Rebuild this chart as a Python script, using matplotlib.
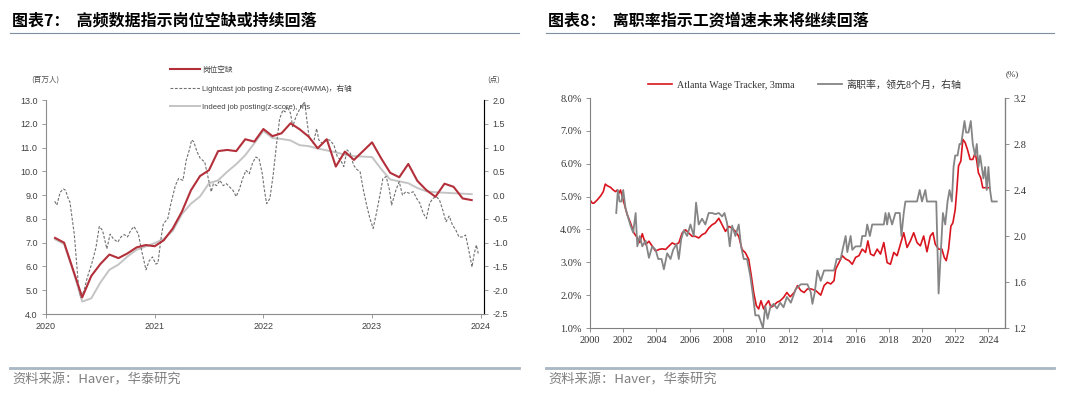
import matplotlib
matplotlib.use('Agg')
import matplotlib.pyplot as plt
from matplotlib.lines import Line2D
from matplotlib.ticker import FormatStrFormatter
import numpy as np
import pandas as pd

plt.rcParams['font.family'] = ['Liberation Sans', 'Noto Sans CJK SC', 'DejaVu Sans']
plt.rcParams['axes.unicode_minus'] = False

CJK = ['Noto Sans CJK SC', 'DejaVu Sans']
SANS = ['Liberation Sans', 'Noto Sans CJK SC']
SERIF = ['Liberation Serif', 'Noto Sans CJK SC']

# ---- chart 7 data ----
jolts_dates = pd.period_range('2020-01', '2023-11', freq='M')
jolts = [7.2, 7.0, 5.85, 4.7, 5.6, 6.1, 6.5, 6.35, 6.55, 6.8, 6.9, 6.85,
         7.1, 7.6, 8.3, 9.2, 9.8, 10.05, 10.85, 10.9, 10.85, 11.35, 11.25, 11.78,
         11.48, 11.6, 12.02, 11.77, 11.46, 10.97, 11.35, 10.2, 10.83, 10.48, 10.85, 11.22,
         10.55, 9.94, 9.75, 10.31, 9.6, 9.21, 8.93, 9.48, 9.35, 8.86, 8.79]
indeed = [-0.93, -1.03, -1.6, -2.24, -2.17, -1.84, -1.57, -1.46, -1.29, -1.15, -1.08, -1.01,
          -0.92, -0.75, -0.4, -0.18, -0.03, 0.25, 0.31, 0.49, 0.65, 0.84, 1.09, 1.35,
          1.2, 1.18, 1.15, 1.05, 1.03, 0.98, 0.94, 0.9, 0.85, 0.82, 0.81, 0.8,
          0.55, 0.33, 0.29, 0.25, 0.15, 0.08, 0.06, 0.05, 0.04, 0.03, 0.02]
lightcast_t = [2020.08, 2020.10, 2020.13, 2020.16, 2020.18, 2020.21, 2020.22, 2020.26, 2020.30, 2020.32,
               2020.35, 2020.38, 2020.42, 2020.46, 2020.49, 2020.52, 2020.56, 2020.59, 2020.62, 2020.66,
               2020.69, 2020.72, 2020.75, 2020.78, 2020.81, 2020.85, 2020.88, 2020.92, 2020.95, 2020.98,
               2021.01, 2021.03, 2021.06, 2021.08, 2021.12, 2021.15, 2021.19, 2021.22, 2021.26, 2021.29,
               2021.32, 2021.34, 2021.36, 2021.39, 2021.42, 2021.46, 2021.49, 2021.52, 2021.54, 2021.57,
               2021.60, 2021.63, 2021.66, 2021.69, 2021.72, 2021.75, 2021.78, 2021.81, 2021.84, 2021.87,
               2021.90, 2021.93, 2021.96, 2021.99, 2022.01, 2022.03, 2022.06, 2022.09, 2022.12, 2022.15,
               2022.18, 2022.20, 2022.22, 2022.25, 2022.27, 2022.30, 2022.33, 2022.36, 2022.38, 2022.40,
               2022.42, 2022.46, 2022.49, 2022.51, 2022.54, 2022.57, 2022.61, 2022.65, 2022.68, 2022.71,
               2022.74, 2022.77, 2022.80, 2022.83, 2022.86, 2022.89, 2022.92, 2022.95, 2022.98,
               2023.01, 2023.04, 2023.07, 2023.10, 2023.13, 2023.16, 2023.18, 2023.22, 2023.25, 2023.28,
               2023.31, 2023.34, 2023.38, 2023.41, 2023.44, 2023.47, 2023.50, 2023.53, 2023.56, 2023.59,
               2023.62, 2023.65, 2023.68, 2023.71, 2023.74, 2023.77, 2023.80, 2023.83, 2023.86, 2023.89,
               2023.92, 2023.94, 2023.96, 2023.98]
lightcast_z = [-0.13, -0.21, 0.06, 0.13, 0.10, -0.11, -0.14, -0.82, -1.94, -2.15,
               -2.01, -1.73, -1.45, -1.10, -0.66, -0.74, -1.13, -0.82, -0.92, -0.99,
               -0.88, -0.83, -0.88, -0.74, -0.66, -0.82, -1.17, -1.57, -1.38, -1.30,
               -1.45, -1.43, -0.88, -0.60, -0.50, -0.17, 0.20, 0.35, 0.31, 0.73,
               0.96, 1.16, 1.12, 0.91, 0.77, 0.70, 0.38, 0.07, 0.24, 0.20,
               0.31, 0.20, 0.24, 0.17, 0.10, -0.03, 0.13, 0.35, 0.52, 0.45,
               0.67, 0.80, 0.77, 0.45, 0.10, -0.18, -0.07, 0.42, 1.05, 1.61,
               1.79, 1.75, 1.86, 1.72, 1.44, 1.65, 1.79, 1.89, 1.96, 1.58,
               1.23, 1.09, 1.40, 1.16, 1.09, 1.16, 1.16, 1.05, 0.81, 0.74,
               0.60, 0.95, 0.88, 0.63, 0.54, 0.49, 0.11, -0.21, -0.49,
               -0.70, -0.38, -0.03, 0.35, 0.39, 0.11, -0.21, 0.11, 0.28, 0.00,
               0.07, 0.04, 0.07, -0.07, -0.17, -0.38, -0.49, -0.17, -0.07, -0.03,
               -0.10, -0.31, -0.56, -0.44, -0.63, -0.73, -0.88, -0.88, -0.84, -1.16,
               -1.51, -1.23, -1.05, -1.26]

# ---- chart 8 data ----
awt_t = [2000.00, 2000.14, 2000.24, 2000.44, 2000.64, 2000.80, 2000.92, 2001.04, 2001.24, 2001.40,
         2001.54, 2001.64, 2001.74, 2001.84, 2001.94, 2002.08, 2002.24, 2002.44, 2002.64, 2002.85,
         2003.00, 2003.15, 2003.35, 2003.55, 2003.75, 2003.95, 2004.15, 2004.35, 2004.55, 2004.75,
         2004.95, 2005.15, 2005.35, 2005.55, 2005.75, 2005.95, 2006.15, 2006.35, 2006.55, 2006.75,
         2006.95, 2007.15, 2007.35, 2007.55, 2007.76, 2007.96, 2008.16, 2008.36, 2008.56, 2008.76,
         2008.96, 2009.16, 2009.36, 2009.56, 2009.72, 2009.86, 2010.02, 2010.16, 2010.30, 2010.46,
         2010.62, 2010.76, 2010.90, 2011.06, 2011.26, 2011.46, 2011.66, 2011.86, 2012.06, 2012.30,
         2012.50, 2012.70, 2012.90, 2013.10, 2013.30, 2013.60, 2013.90, 2014.10, 2014.30, 2014.50,
         2014.70, 2014.80, 2015.00, 2015.20, 2015.40, 2015.60, 2015.80, 2016.00, 2016.20, 2016.40,
         2016.60, 2016.74, 2016.90, 2017.10, 2017.30, 2017.50, 2017.70, 2017.90, 2018.10, 2018.30,
         2018.50, 2018.70, 2018.90, 2019.10, 2019.30, 2019.50, 2019.70, 2019.90, 2020.10, 2020.30,
         2020.50, 2020.66, 2020.80, 2021.00, 2021.20, 2021.34, 2021.46, 2021.60, 2021.74, 2021.86,
         2022.00, 2022.10, 2022.20, 2022.34, 2022.46, 2022.60, 2022.74, 2022.90, 2023.06, 2023.20,
         2023.30, 2023.40, 2023.54, 2023.66, 2023.90, 2024.06]
awt = [4.9, 4.8, 4.8, 4.9, 5.02, 5.15, 5.38, 5.33, 5.28, 5.2,
       5.15, 5.2, 5.1, 5.2, 5.0, 4.75, 4.45, 4.2, 3.9, 3.74,
       3.6, 3.87, 3.54, 3.64, 3.49, 3.34, 3.39, 3.41, 3.39, 3.49,
       3.59, 3.54, 3.59, 3.89, 3.99, 3.89, 3.79, 3.79, 3.74, 3.84,
       3.89, 4.04, 4.14, 4.2, 4.34, 4.14, 3.94, 4.09, 4.04, 3.94,
       3.79, 3.39, 3.29, 3.09, 2.58, 2.08, 1.68, 1.58, 1.83, 1.58,
       1.73, 1.83, 1.63, 1.68, 1.78, 1.83, 1.93, 2.08, 1.95, 2.08,
       2.29, 2.14, 2.08, 2.19, 2.19, 2.14, 2.0, 2.29, 2.39, 2.34,
       2.44, 2.79, 2.99, 3.2, 3.1, 3.05, 2.94, 3.15, 3.2, 3.4,
       3.3, 3.65, 3.25, 3.2, 3.4, 3.25, 3.6, 2.99, 2.94, 3.3,
       3.2, 3.55, 3.9, 3.45, 3.65, 3.9, 3.6, 3.5, 3.8, 3.32,
       3.8, 3.9, 3.55, 3.4, 3.4, 3.15, 3.05, 3.4, 4.1, 4.2,
       4.6, 5.22, 5.93, 6.08, 6.74, 6.64, 6.43, 6.13, 6.13, 6.33,
       6.08, 5.72, 5.57, 5.27, 5.27, 5.27]
quits_t = [2001.58, 2001.68, 2001.78, 2001.90, 2002.00, 2002.14, 2002.28, 2002.44, 2002.60, 2002.75,
           2002.85, 2003.00, 2003.15, 2003.35, 2003.55, 2003.75, 2003.95, 2004.11, 2004.31, 2004.45,
           2004.65, 2004.85, 2005.01, 2005.21, 2005.35, 2005.49, 2005.65, 2005.85, 2006.05, 2006.25,
           2006.39, 2006.55, 2006.75, 2006.95, 2007.15, 2007.35, 2007.55, 2007.76, 2007.96, 2008.10,
           2008.26, 2008.42, 2008.56, 2008.76, 2008.96, 2009.10, 2009.26, 2009.46, 2009.66, 2009.82,
           2009.96, 2010.16, 2010.30, 2010.42, 2010.56, 2010.70, 2010.86, 2011.06, 2011.26, 2011.46,
           2011.66, 2011.86, 2012.10, 2012.40, 2012.70, 2013.10, 2013.30, 2013.40, 2013.54, 2013.70,
           2013.90, 2014.10, 2014.70, 2014.86, 2015.10, 2015.26, 2015.40, 2015.50, 2015.70, 2015.80,
           2016.00, 2016.30, 2016.40, 2016.60, 2016.70, 2016.86, 2017.00, 2017.70, 2017.80, 2017.90,
           2018.00, 2018.20, 2018.40, 2018.66, 2018.76, 2018.90, 2019.00, 2019.70, 2019.86, 2020.00,
           2020.20, 2020.30, 2020.86, 2021.00, 2021.14, 2021.26, 2021.40, 2021.54, 2021.66, 2021.80,
           2021.90, 2022.00, 2022.14, 2022.26, 2022.36, 2022.46, 2022.56, 2022.66, 2022.80, 2022.94,
           2023.06, 2023.20, 2023.30, 2023.40, 2023.50, 2023.60, 2023.70, 2023.80, 2023.90, 2024.00,
           2024.10, 2024.20, 2024.50]
quits = [2.2, 2.4, 2.3, 2.3, 2.4, 2.24, 2.17, 2.09, 2.03, 2.2,
         1.91, 2.0, 1.91, 1.96, 1.81, 1.91, 1.88, 1.8, 1.8, 1.71,
         1.85, 1.8, 1.88, 1.93, 1.8, 1.97, 2.05, 2.0, 2.1, 2.0,
         2.29, 2.1, 2.15, 2.1, 2.2, 2.2, 2.19, 2.2, 2.17, 2.2,
         2.11, 1.91, 2.09, 2.0, 2.1, 1.91, 1.8, 1.8, 1.65, 1.48,
         1.31, 1.31, 1.25, 1.2, 1.39, 1.28, 1.38, 1.41, 1.37, 1.42,
         1.38, 1.47, 1.42, 1.54, 1.58, 1.58, 1.51, 1.41, 1.51, 1.7,
         1.61, 1.7, 1.7, 1.8, 1.8, 1.91, 2.0, 1.86, 2.0, 1.88,
         1.91, 1.91, 2.0, 2.0, 2.1, 2.0, 2.1, 2.1, 2.2, 2.1,
         2.2, 2.1, 2.2, 2.2, 2.0, 2.2, 2.3, 2.3, 2.4, 2.3,
         2.4, 2.3, 2.3, 1.5, 1.88, 2.2, 2.1, 2.3, 2.4, 2.3,
         2.6, 2.7, 2.7, 2.8, 2.8, 2.9, 3.0, 2.9, 2.9, 3.0,
         2.8, 2.7, 2.8, 2.6, 2.7, 2.6, 2.5, 2.6, 2.4, 2.6,
         2.4, 2.3, 2.3]

W, H = 1080, 401


def fx(x):
    return x / W


def fy(y):
    return 1 - y / H


def style_axes(ax, axr, size, color, spine_color):
    ax.spines['top'].set_visible(False)
    axr.spines['top'].set_visible(False)
    for s in ['left', 'bottom']:
        ax.spines[s].set_color(spine_color)
        ax.spines[s].set_linewidth(0.8)
    axr.spines['right'].set_color(spine_color)
    axr.spines['right'].set_linewidth(0.8)
    for s in ['left', 'bottom']:
        axr.spines[s].set_visible(False)
    for a in (ax, axr):
        a.tick_params(labelsize=size, colors=color, length=3, width=0.6, direction='out', pad=3)
        a.tick_params(axis='both', color=spine_color)


def create_charts():
    fig = plt.figure(figsize=(W / 100, H / 100), dpi=100)

    # ---------------- chart 7 ----------------
    ax1 = fig.add_axes([fx(46), fy(314), 438 / W, 214 / H])
    ax1r = ax1.twinx()
    x_jolts = jolts_dates.year + jolts_dates.month / 12

    l_ind, = ax1r.plot(x_jolts, indeed, color='#c4c4c4', lw=1.4,
                       label='Indeed job posting(z-score), rhs')
    l_lc, = ax1r.plot(lightcast_t, lightcast_z, color='#707070', lw=0.8, ls=(0, (2.5, 1.5)),
                      label='Lightcast job posting Z-score(4WMA)，右轴')
    l_jo, = ax1.plot(x_jolts, jolts, color='#b3303b', lw=1.5, label='岗位空缺')
    ax1.set_zorder(ax1r.get_zorder() + 1)
    ax1.patch.set_visible(False)

    ax1.set_xlim(2020, 2024.03)
    ax1.set_ylim(4, 13)
    ax1.set_yticks(np.arange(4, 13.01, 1))
    ax1.yaxis.set_major_formatter(FormatStrFormatter('%.1f'))
    ax1r.set_ylim(-2.5, 2.0)
    ax1r.set_yticks(np.arange(-2.5, 2.01, 0.5))
    ax1r.yaxis.set_major_formatter(FormatStrFormatter('%.1f'))
    ax1.set_xticks([2020, 2021, 2022, 2023, 2024])
    ax1.set_xticklabels(['2020', '2021', '2022', '2023', '2024'])
    style_axes(ax1, ax1r, 6.5, '#404040', '#8c8c8c')
    for lab in ax1.get_xticklabels() + ax1.get_yticklabels() + ax1r.get_yticklabels():
        lab.set_family(SANS)

    fig.text(fx(45), fy(80), '(百万人)', ha='center', va='center', fontsize=5.5,
             color='#505050', family=CJK)
    fig.text(fx(494), fy(80), '(点)', ha='center', va='center', fontsize=5.5,
             color='#505050', family=CJK)

    fig.legend(handles=[l_jo, l_lc, l_ind], loc='upper left',
               bbox_to_anchor=(fx(170), fy(66)), frameon=False,
               prop={'family': SANS, 'size': 5.5}, labelcolor='#404040',
               borderpad=0, borderaxespad=0, handlelength=3.9, handletextpad=0.3,
               labelspacing=1.4)

    # ---------------- chart 8 ----------------
    ax2 = fig.add_axes([fx(590), fy(328), 415 / W, 230 / H])
    ax2r = ax2.twinx()
    l_awt, = ax2.plot(awt_t, awt, color='#d9141e', lw=1.2, label='Atlanta Wage Tracker, 3mma')
    l_q, = ax2r.plot(quits_t, quits, color='#858585', lw=1.3, label='离职率，领先8个月，右轴')

    ax2.set_xlim(2000, 2025)
    ax2.set_ylim(1, 8)
    ax2.set_yticks(np.arange(1, 8.01, 1))
    ax2.yaxis.set_major_formatter(FormatStrFormatter('%.1f%%'))
    ax2r.set_ylim(1.2, 3.2)
    ax2r.set_yticks(np.arange(1.2, 3.21, 0.4))
    ax2r.yaxis.set_major_formatter(FormatStrFormatter('%.1f'))
    ax2.set_xticks(np.arange(2000, 2025, 2))
    style_axes(ax2, ax2r, 7.5, '#333333', '#808080')
    for lab in ax2.get_xticklabels() + ax2.get_yticklabels() + ax2r.get_yticklabels():
        lab.set_family(SERIF)

    fig.text(fx(1012), fy(74), '(%)', ha='center', va='center', fontsize=6.5,
             color='#333333', family=SERIF)

    fig.legend(handles=[l_awt, l_q], loc='center', ncol=2,
               bbox_to_anchor=(fx(805), fy(85)), frameon=False,
               prop={'family': SERIF, 'size': 7.2}, labelcolor='#333333',
               borderpad=0, handlelength=2.4, handletextpad=0.5, columnspacing=2.3)

    # ---------------- titles, rules, sources ----------------
    fig.text(fx(12), fy(20), '图表7：  高频数据指示岗位空缺或持续回落', fontsize=11.5,
             fontweight='bold', va='center', ha='left', family=CJK, color='#000000')
    fig.text(fx(548), fy(20), '图表8：  离职率指示工资增速未来将继续回落', fontsize=11.5,
             fontweight='bold', va='center', ha='left', family=CJK, color='#000000')

    for x0, x1 in [(10, 519), (546, 1054)]:
        fig.add_artist(Line2D([fx(x0), fx(x1)], [fy(33), fy(33)], color='#7f8fa1', lw=0.8))
        fig.add_artist(Line2D([fx(x0), fx(x1)], [fy(368), fy(368)], color='#a9b6c4', lw=2.0))

    fig.text(fx(12), fy(380), '资料来源：Haver，华泰研究', fontsize=9.5, color='#7f7f7f',
             va='center', ha='left', family=CJK)
    fig.text(fx(548), fy(380), '资料来源：Haver，华泰研究', fontsize=9.5, color='#7f7f7f',
             va='center', ha='left', family=CJK)

    fig.savefig('out.png', dpi=100)


if __name__ == "__main__":
    create_charts()
